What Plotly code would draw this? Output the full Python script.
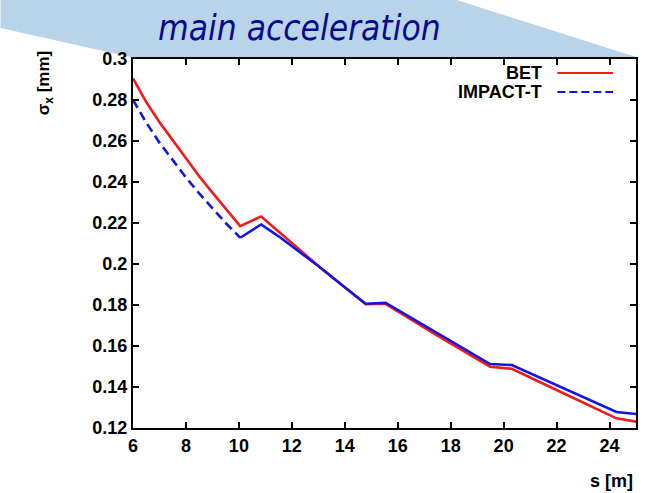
import plotly.graph_objects as go

# ---- data ----
series_names = ["BET", "IMPACT-T"]

bet_s = [6.0, 6.5, 7.0, 7.5, 8.0, 8.5, 9.0, 9.5, 10.05, 10.84, 11.5, 12.0, 13.0, 14.0, 14.79, 15.54, 17.5, 19.49, 20.31, 22.3, 24.26, 25.0]
bet_v = [0.2906, 0.2790, 0.2692, 0.2603, 0.2512, 0.2428, 0.2348, 0.2268, 0.2185, 0.2232, 0.2160, 0.2103, 0.1990, 0.1885, 0.1804, 0.1806, 0.1651, 0.1499, 0.1489, 0.1367, 0.1247, 0.1231]

imp_s = [6.0, 6.5, 7.0, 7.5, 8.0, 8.5, 9.0, 9.5, 10.05, 10.84, 11.5, 12.0, 13.0, 14.0, 14.79, 15.54, 17.5, 19.49, 20.31, 22.3, 24.26, 25.0]
imp_v = [0.2800, 0.2690, 0.2592, 0.2505, 0.2422, 0.2345, 0.2272, 0.2200, 0.2128, 0.2193, 0.2135, 0.2087, 0.1990, 0.1887, 0.1806, 0.1811, 0.1662, 0.1512, 0.1507, 0.1391, 0.1278, 0.1268]
imp_dashed_until = 8  # index of the dip at s=10.05; dense points after it look solid

x_ticks = [6, 8, 10, 12, 14, 16, 18, 20, 22, 24]
y_ticks = [0.12, 0.14, 0.16, 0.18, 0.2, 0.22, 0.24, 0.26, 0.28, 0.3]
y_tick_labels = ["0.12", "0.14", "0.16", "0.18", "0.2", "0.22", "0.24", "0.26", "0.28", "0.3"]

title_text = "main acceleration"
x_title = "s [m]"
y_title = "σ<sub>x</sub> [mm]"

# ---- layout geometry (pixels) ----
W, H = 647, 493
L, R, T, B = 133, 638, 59, 428
pw, ph = R - L, B - T

def px(xp):
    return (xp - L) / pw

def py(yp):
    return (B - yp) / ph

RED = "#ee1c1c"
BLUE = "#1414e6"
FONT = "Liberation Sans, Arial, sans-serif"

fig = go.Figure()
fig.add_trace(go.Scatter(x=bet_s, y=bet_v, mode="lines", name=series_names[0],
                         line=dict(color=RED, width=2.6), showlegend=False))
fig.add_trace(go.Scatter(x=imp_s[:imp_dashed_until + 1], y=imp_v[:imp_dashed_until + 1], mode="lines",
                         name=series_names[1], line=dict(color=BLUE, width=2.6, dash="9px,5px"),
                         showlegend=False))
fig.add_trace(go.Scatter(x=imp_s[imp_dashed_until:], y=imp_v[imp_dashed_until:], mode="lines",
                         name=series_names[1], line=dict(color=BLUE, width=2.6), showlegend=False))

axis_common = dict(showgrid=False, zeroline=False, showline=True, linecolor="black", linewidth=2,
                   ticks="inside", ticklen=6, tickwidth=1.5, tickcolor="black", mirror="allticks",
                   tickfont=dict(family=FONT, size=18, color="black", weight="bold"))

fig.update_xaxes(range=[6, 25], tickvals=x_ticks, ticktext=[str(t) for t in x_ticks], **axis_common)
fig.update_yaxes(range=[0.12, 0.3], tickvals=y_ticks, ticktext=y_tick_labels, **axis_common)

shapes = []
# banner behind the title
banner = [(0, 0), (458, 0), (638, 57), (130, 57), (0, 28)]
path = "M " + " L ".join(f"{px(a):.4f},{py(b):.4f}" for a, b in banner) + " Z"
shapes.append(dict(type="path", xref="paper", yref="paper", path=path,
                   fillcolor="#b9d4e9", line=dict(width=0), layer="below"))

annotations = [
    dict(text=title_text, xref="paper", yref="paper", x=px(300), y=py(28), showarrow=False,
         font=dict(family="DejaVu Sans Condensed, DejaVu Sans", size=35, color="#0a0a8c", style="italic"),
         xanchor="center", yanchor="middle"),
    dict(text=y_title, xref="paper", yref="paper", x=px(45), y=py(83), showarrow=False, textangle=-90,
         font=dict(family=FONT, size=17, color="black", weight="bold"), xanchor="center", yanchor="middle"),
    dict(text=x_title, xref="paper", yref="paper", x=px(637), y=py(481), showarrow=False,
         font=dict(family=FONT, size=18, color="black", weight="bold"), xanchor="right", yanchor="middle"),
]

# gnuplot-style key: label then line sample
key_rows = [(series_names[0], RED, "solid", 73), (series_names[1], BLUE, "8px,4px", 92)]
for name, col, dash, yk in key_rows:
    annotations.append(dict(text=name, xref="paper", yref="paper", x=px(546), y=py(yk), showarrow=False,
                            font=dict(family=FONT, size=18, color="black", weight="bold"),
                            xanchor="right", yanchor="middle"))
    shapes.append(dict(type="line", xref="paper", yref="paper", x0=px(559), x1=px(615), y0=py(yk), y1=py(yk),
                       line=dict(color=col, width=2.2, dash=dash)))

fig.update_layout(width=W, height=H, margin=dict(l=L, r=W - R, t=T, b=H - B),
                  paper_bgcolor="white", plot_bgcolor="white",
                  shapes=shapes, annotations=annotations, showlegend=False)

fig.write_html("out.html", config={"displayModeBar": False},
               post_script="document.body.style.margin='0';document.body.style.overflow='hidden';")
